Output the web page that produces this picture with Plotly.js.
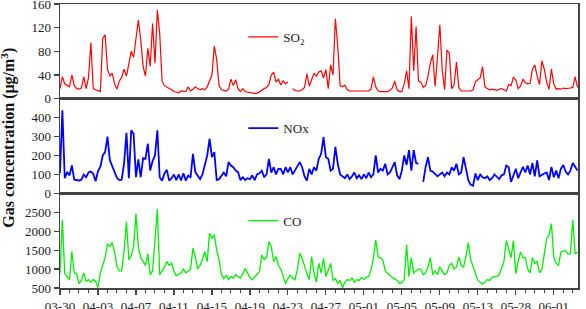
<!DOCTYPE html>
<html>
<head>
<meta charset="utf-8">
<script src="https://cdn.plot.ly/plotly-3.0.1.min.js"></script>
<style>
  html, body { margin: 0; padding: 0; background: #fff; }
  #chart { width: 586px; height: 309px; }
</style>
</head>
<body>
<div id="chart"></div>
<script>
// Gas concentrations sampled every 6 hours (4 samples per day), starting 03-30.
const SAMPLES_PER_DAY = 4;

// Date labels placed every 4 days along the day index
const dayLabels = ['03-30', '04-03', '04-07', '04-11', '04-15', '04-19', '04-23',
                   '04-27', '05-01', '05-05', '05-09', '05-13', '05-28', '06-01'];

// SO2 (μg/m3)
const so2 = [
  17, 37, 25, 22,   20, 40, 22, 17,   16, 18, 37, 17,   35, 95, 17, 15,
  13, 12, 102, 108, 50, 38, 43, 25,   16, 30, 36, 50,   38, 62, 80, 70,
  100, 133, 100, 55, 38, 85, 55, 127, 60, 150, 110, 30, 22, 20, 17, 15,
  12, 11, 10, 13,   12, 12, 20, 13,   16, 20, 17, 15,   17, 15, 20, 30,
  40, 89, 66, 22,   15, 14, 13, 16,   33, 22, 32, 17,   12, 17, 12, 11,
  10, 9, 9, 9,      11, 14, 17, 19,   24, 40, 45, 28,   33, 23, 30, 25,
  28, null, 17, 14, 13, 13, 15, 19,   42, 21, 32, 43,   38, 45, 47, 35,
  49, 17, 57, 40,   135, 89, 22, 20,  23, 15, 13, 13,   14, 13, 14, 13,
  13, 14, 13, 16,   37, 20, 13, 12,   12, 12, 12, 14,   18, 30, 15, 12,
  12, 25, 47, 17,   139, 47, 122, 30, 28, 19, 22, 38,   60, 74, 21, 70,
  125, 49, 15, 82,  77, 17, 23, 62,   19, 13, 13, 13,   12, 13, 15, 29,
  32, 35, 54, 20,   17, 15, 16, 15,   14, 16, 17, 15,   13, 24, 22, 36,
  32, 17, 21, 33,   27, 25, 26, 50,   57, 38, 24, 64,   50, 28, 16, 50,
  25, 16, 17, 16,   18, 17, 17, 18,   19, 37, 19
];

// NOx (μg/m3)
const nox = [
  106, 439, 80, 112, 95, 147, 72, 70,  68, 72, 99, 85,    110, 115, 103, 64,
  117, 140, 200, 218, 300, 175, 145, 120, 81, 70, 72, 160, 320, 80, 333, 315,
  85, 180, 85, 186,  182, 262, 120, 170, 200, 333, 85, 67, 105, 124, 67, 80,
  99, 70, 100, 68,   106, 67, 94, 85,   209, 112, 90, 75,  100, 150, 200, 288,
  191, 218, 70, 75,  95, 110, 90, 165,  147, 138, 120, 112, 70, 85, 70, 80,
  75, 95, 70, 100,   106, 120, 85, 100, 182, 110, 138, 100, 129, 129, 100, 138,
  110, 138, 100, 120, 147, 165, 138, 90, 67, 129, 100, 138, 120, 182, 209, 297,
  191, 182, 120, 130, 246, 156, 100, 90, 80, 100, 75, 90,  110, 80, 95, 75,
  100, 80, 110, 85,  100, 200, 110, 130, 120, 156, 100, 110, 138, 165, 95, 75,
  120, 200, 150, 228, 120, 228, 160, 156, null, 60, 138, 191, 120, 115, 100, 90,
  100, 110, 90, 110, 100, 138, 120, 156, 100, 110, 191, 120, 70, 45, 40, 105,
  70, 100, 85, 80,   90, 70, 80, 100,  90, 75, 95, 100,   147, 138, 60, 100,
  130, 80, 110, 140, 110, 147, 100, 160, 90, 174, 90, 100, 105, 110, 70, 140,
  85, 120, 80, 130,  150, 115, 100, 120, 160, 140, 120
];

// CO (μg/m3)
const co = [
  880, 2300, 880, 800,   720, 1460, 900, 880,   615, 700, 900, 680,    720, 650, 720, 680,
  510, 900, 1100, 1300,  1650, 1600, 1700, 1450, 1060, 950, 950, 1500, 2250, 1240, 1350, 1600,
  2450, 1600, 1300, 1200, 1100, 1400, 850, 950,  1680, 2580, 850, 950,  1050, 1200, 1100, 1150,
  950, 820, 860, 900,    1000, 900, 940, 1000,   1549, 1327, 1000, 1100, 1250, 1460, 1193, 1949,
  1816, 1905, 1500, 1250, 850, 750, 830, 720,    800, 760, 850, 800,    760, 880, 1016, 900,
  780, 720, 800, 880,    930, 1371, 1250, 1300,  1727, 1593, 1193, 1327, 1100, 1000, 800, 615,
  750, 840, 760, 720,    1000, 1416, 1282, 1050, 880, 720, 1327, 900,  660, 1149, 900, 1282,
  800, 970, 1149, 700,   750, 620, 700, 510,     650, 720, 700, 760,    650, 720, 700, 780,
  720, 780, 800, 971,    1282, 1771, 1327, 1300, 1238, 950, 880, 830,  780, 750, 700, 620,
  640, 720, 1640, 800,   1300, 900, 950, 1000,   1000, 850, 900, 1050,  1300, 850, 950, 850,
  1060, 950, 850, 900,   1100, 1150, 1000, 1050, 1320, 1100, 1050, 1330, 1700, 1250, 1050, 900,
  700, 660, 600, 650,    720, 700, 780, 800,     800, 850, 1000, 1200,  1750, 1500, 1300, 1750,
  880, 1200, 1450, 1300, 1300, 1000, 900, 1300,  1150, 1200, 900, 1000, 1400, 1800, 1900, 2200,
  1300, 1150, 1100, 1450, 1480, 1480, 1400, 1400, 2300, 1400, 1450
];

// Time axis in days since 03-30
const dayIndex = arr => arr.map((_, i) => i / SAMPLES_PER_DAY);
const labelDays = dayLabels.map((_, i) => i * 4);

const FONT = 'Liberation Serif, "Times New Roman", Times, serif';
const FRAME = '#444';

const traces = [
  { x: dayIndex(so2), y: so2, name: 'SO<sub>2</sub>', type: 'scatter', mode: 'lines',
    xaxis: 'x3', yaxis: 'y3', legend: 'legend',
    line: { color: '#ff0000', width: 1.2 } },
  { x: dayIndex(nox), y: nox, name: 'NOx', type: 'scatter', mode: 'lines',
    xaxis: 'x2', yaxis: 'y2', legend: 'legend2',
    line: { color: '#0000ff', width: 1.8 } },
  { x: dayIndex(co), y: co, name: 'CO', type: 'scatter', mode: 'lines',
    xaxis: 'x', yaxis: 'y', legend: 'legend3',
    line: { color: '#00ee00', width: 1.3 } }
];

const X_RANGE = [0, 54.55];

const frameAxis = {
  showline: true, linecolor: FRAME, linewidth: 1.5, mirror: true,
  showgrid: false, zeroline: false
};

const hiddenX = Object.assign({}, frameAxis, {
  matches: 'x', range: X_RANGE, showticklabels: false, ticks: ''
});

const yCommon = Object.assign({}, frameAxis, {
  ticks: 'outside', ticklen: 5, tickwidth: 1.2, tickcolor: FRAME,
  ticklabeloverflow: 'allow',
  tickfont: { family: FONT, size: 13, color: '#222' }
});

const legendCommon = {
  xanchor: 'left', yanchor: 'middle', bgcolor: 'rgba(0,0,0,0)', borderwidth: 0,
  font: { family: FONT, size: 13, color: '#222' }, itemwidth: 30
};

const layout = {
  width: 586, height: 309,
  margin: { l: 60, r: 8, t: 4, b: 21 },
  paper_bgcolor: '#fff', plot_bgcolor: '#fff',
  font: { family: FONT, size: 13, color: '#222' },
  showlegend: true,
  xaxis: Object.assign({}, frameAxis, {
    anchor: 'y', range: X_RANGE,
    tickmode: 'array', tickvals: labelDays, ticktext: dayLabels,
    ticks: 'outside', ticklen: 5, tickwidth: 1.2, tickcolor: FRAME,
    ticklabelstandoff: 1, ticklabeloverflow: 'allow',
    tickfont: { family: FONT, size: 13, color: '#222' },
    minor: { tickmode: 'linear', tick0: 0, dtick: 1, ticks: 'outside', ticklen: 3,
             tickwidth: 1, tickcolor: FRAME, showgrid: false }
  }),
  xaxis2: Object.assign({}, hiddenX, { anchor: 'y2' }),
  xaxis3: Object.assign({}, hiddenX, { anchor: 'y3' }),
  yaxis: Object.assign({}, yCommon, {
    domain: [0, 1 / 3], range: [500, 3000], tickvals: [500, 1000, 1500, 2000, 2500]
  }),
  yaxis2: Object.assign({}, yCommon, {
    domain: [1 / 3, 2 / 3], range: [0, 500], tickvals: [0, 100, 200, 300, 400]
  }),
  yaxis3: Object.assign({}, yCommon, {
    domain: [2 / 3, 1], range: [0, 160], tickvals: [0, 40, 80, 120, 160]
  }),
  legend: Object.assign({}, legendCommon, { x: 0.354, y: 0.884 }),
  legend2: Object.assign({}, legendCommon, { x: 0.354, y: 0.563 }),
  legend3: Object.assign({}, legendCommon, { x: 0.354, y: 0.237 }),
  annotations: [{
    text: '<b>Gas concentration (μg/m<sup>3</sup>)</b>',
    xref: 'paper', yref: 'paper', x: -0.1, y: 0.53,
    xanchor: 'center', yanchor: 'middle', textangle: -90, showarrow: false,
    font: { family: FONT, size: 16, color: '#111' }
  }]
};

Plotly.newPlot('chart', traces, layout, { staticPlot: true, displayModeBar: false });
</script>
</body>
</html>
